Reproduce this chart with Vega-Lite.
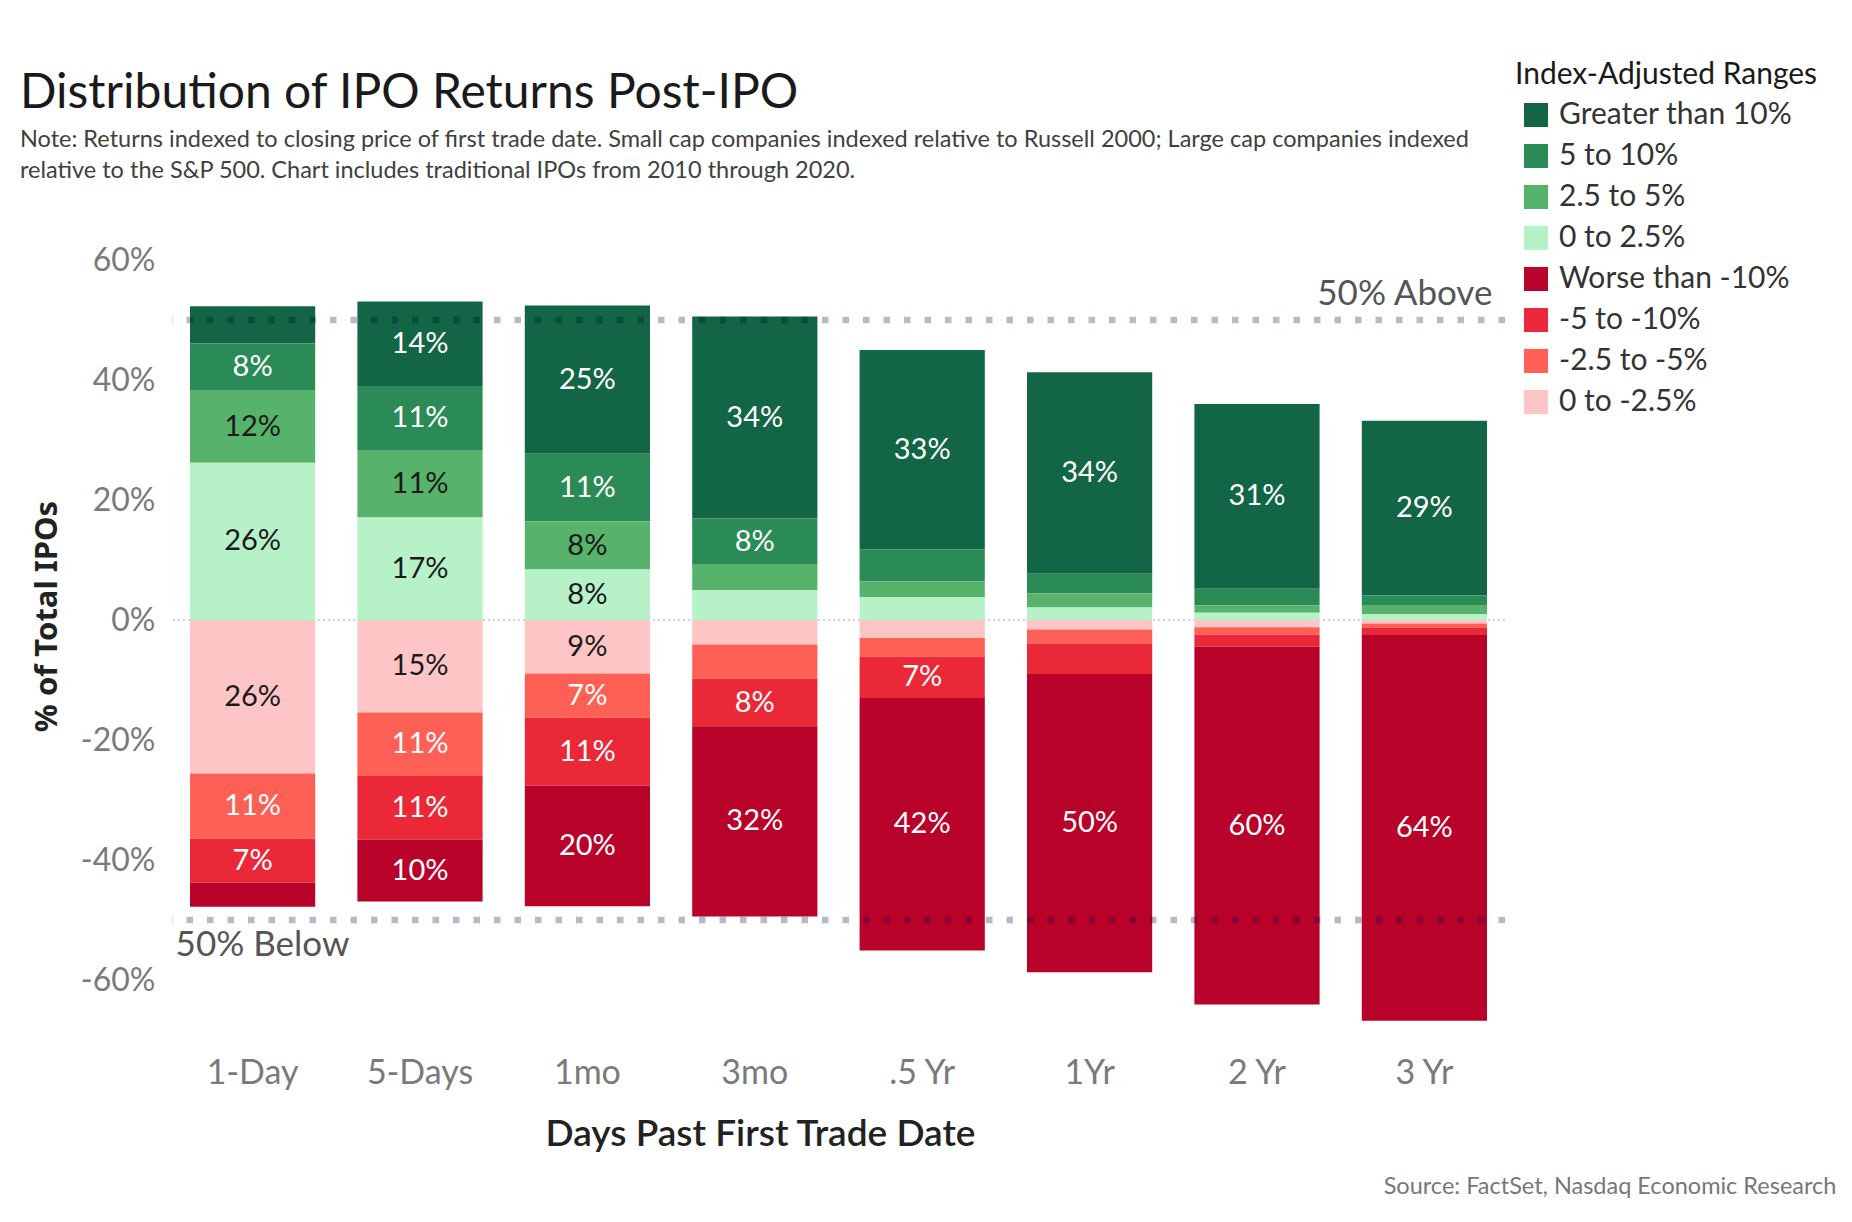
{
  "$schema": "https://vega.github.io/schema/vega-lite/v6.json",
  "width": 1333,
  "height": 810,
  "autosize": {"type": "none"},
  "padding": {"left": 172, "top": 230, "right": 347, "bottom": 182},
  "background": "white",
  "title": {
    "text": "Distribution of IPO Returns Post-IPO",
    "subtitle": [
      "Note: Returns indexed to closing price of first trade date. Small cap companies indexed relative to Russell 2000; Large cap companies indexed",
      "relative to the S&P 500. Chart includes traditional IPOs from 2010 through 2020."
    ],
    "anchor": "start",
    "frame": "group",
    "dx": -152,
    "dy": 132,
    "offset": 10,
    "font": "Lato",
    "fontSize": 48,
    "fontWeight": "normal",
    "color": "#1a1a1a",
    "subtitleFont": "Lato",
    "subtitleFontSize": 23.5,
    "subtitleColor": "#404040",
    "subtitleLineHeight": 31,
    "subtitlePadding": 10
  },
  "data": {
    "values": [
      {"period": "1-Day", "range": "Greater than 10%", "value": 0.062, "share": 0.062, "rank": 4},
      {"period": "1-Day", "range": "5 to 10%", "value": 0.079, "share": 0.079, "rank": 3},
      {"period": "1-Day", "range": "2.5 to 5%", "value": 0.120, "share": 0.120, "rank": 2},
      {"period": "1-Day", "range": "0 to 2.5%", "value": 0.262, "share": 0.262, "rank": 1},
      {"period": "1-Day", "range": "0 to -2.5%", "value": -0.256, "share": 0.256, "rank": 1},
      {"period": "1-Day", "range": "-2.5 to -5%", "value": -0.108, "share": 0.108, "rank": 2},
      {"period": "1-Day", "range": "-5 to -10%", "value": -0.074, "share": 0.074, "rank": 3},
      {"period": "1-Day", "range": "Worse than -10%", "value": -0.040, "share": 0.040, "rank": 4},

      {"period": "5-Days", "range": "Greater than 10%", "value": 0.141, "share": 0.141, "rank": 4},
      {"period": "5-Days", "range": "5 to 10%", "value": 0.108, "share": 0.108, "rank": 3},
      {"period": "5-Days", "range": "2.5 to 5%", "value": 0.111, "share": 0.111, "rank": 2},
      {"period": "5-Days", "range": "0 to 2.5%", "value": 0.171, "share": 0.171, "rank": 1},
      {"period": "5-Days", "range": "0 to -2.5%", "value": -0.154, "share": 0.154, "rank": 1},
      {"period": "5-Days", "range": "-2.5 to -5%", "value": -0.106, "share": 0.106, "rank": 2},
      {"period": "5-Days", "range": "-5 to -10%", "value": -0.106, "share": 0.106, "rank": 3},
      {"period": "5-Days", "range": "Worse than -10%", "value": -0.103, "share": 0.103, "rank": 4},

      {"period": "1mo", "range": "Greater than 10%", "value": 0.247, "share": 0.247, "rank": 4},
      {"period": "1mo", "range": "5 to 10%", "value": 0.113, "share": 0.113, "rank": 3},
      {"period": "1mo", "range": "2.5 to 5%", "value": 0.080, "share": 0.080, "rank": 2},
      {"period": "1mo", "range": "0 to 2.5%", "value": 0.084, "share": 0.084, "rank": 1},
      {"period": "1mo", "range": "0 to -2.5%", "value": -0.089, "share": 0.089, "rank": 1},
      {"period": "1mo", "range": "-2.5 to -5%", "value": -0.074, "share": 0.074, "rank": 2},
      {"period": "1mo", "range": "-5 to -10%", "value": -0.113, "share": 0.113, "rank": 3},
      {"period": "1mo", "range": "Worse than -10%", "value": -0.201, "share": 0.201, "rank": 4},

      {"period": "3mo", "range": "Greater than 10%", "value": 0.337, "share": 0.337, "rank": 4},
      {"period": "3mo", "range": "5 to 10%", "value": 0.077, "share": 0.077, "rank": 3},
      {"period": "3mo", "range": "2.5 to 5%", "value": 0.042, "share": 0.042, "rank": 2},
      {"period": "3mo", "range": "0 to 2.5%", "value": 0.050, "share": 0.050, "rank": 1},
      {"period": "3mo", "range": "0 to -2.5%", "value": -0.041, "share": 0.041, "rank": 1},
      {"period": "3mo", "range": "-2.5 to -5%", "value": -0.057, "share": 0.057, "rank": 2},
      {"period": "3mo", "range": "-5 to -10%", "value": -0.079, "share": 0.079, "rank": 3},
      {"period": "3mo", "range": "Worse than -10%", "value": -0.317, "share": 0.317, "rank": 4},

      {"period": ".5 Yr", "range": "Greater than 10%", "value": 0.332, "share": 0.332, "rank": 4},
      {"period": ".5 Yr", "range": "5 to 10%", "value": 0.054, "share": 0.054, "rank": 3},
      {"period": ".5 Yr", "range": "2.5 to 5%", "value": 0.026, "share": 0.026, "rank": 2},
      {"period": ".5 Yr", "range": "0 to 2.5%", "value": 0.038, "share": 0.038, "rank": 1},
      {"period": ".5 Yr", "range": "0 to -2.5%", "value": -0.030, "share": 0.030, "rank": 1},
      {"period": ".5 Yr", "range": "-2.5 to -5%", "value": -0.031, "share": 0.031, "rank": 2},
      {"period": ".5 Yr", "range": "-5 to -10%", "value": -0.069, "share": 0.069, "rank": 3},
      {"period": ".5 Yr", "range": "Worse than -10%", "value": -0.421, "share": 0.421, "rank": 4},

      {"period": "1Yr", "range": "Greater than 10%", "value": 0.336, "share": 0.336, "rank": 4},
      {"period": "1Yr", "range": "5 to 10%", "value": 0.033, "share": 0.033, "rank": 3},
      {"period": "1Yr", "range": "2.5 to 5%", "value": 0.023, "share": 0.023, "rank": 2},
      {"period": "1Yr", "range": "0 to 2.5%", "value": 0.021, "share": 0.021, "rank": 1},
      {"period": "1Yr", "range": "0 to -2.5%", "value": -0.016, "share": 0.016, "rank": 1},
      {"period": "1Yr", "range": "-2.5 to -5%", "value": -0.023, "share": 0.023, "rank": 2},
      {"period": "1Yr", "range": "-5 to -10%", "value": -0.051, "share": 0.051, "rank": 3},
      {"period": "1Yr", "range": "Worse than -10%", "value": -0.497, "share": 0.497, "rank": 4},

      {"period": "2 Yr", "range": "Greater than 10%", "value": 0.308, "share": 0.308, "rank": 4},
      {"period": "2 Yr", "range": "5 to 10%", "value": 0.028, "share": 0.028, "rank": 3},
      {"period": "2 Yr", "range": "2.5 to 5%", "value": 0.012, "share": 0.012, "rank": 2},
      {"period": "2 Yr", "range": "0 to 2.5%", "value": 0.012, "share": 0.012, "rank": 1},
      {"period": "2 Yr", "range": "0 to -2.5%", "value": -0.012, "share": 0.012, "rank": 1},
      {"period": "2 Yr", "range": "-2.5 to -5%", "value": -0.012, "share": 0.012, "rank": 2},
      {"period": "2 Yr", "range": "-5 to -10%", "value": -0.020, "share": 0.020, "rank": 3},
      {"period": "2 Yr", "range": "Worse than -10%", "value": -0.597, "share": 0.597, "rank": 4},

      {"period": "3 Yr", "range": "Greater than 10%", "value": 0.291, "share": 0.291, "rank": 4},
      {"period": "3 Yr", "range": "5 to 10%", "value": 0.016, "share": 0.016, "rank": 3},
      {"period": "3 Yr", "range": "2.5 to 5%", "value": 0.015, "share": 0.015, "rank": 2},
      {"period": "3 Yr", "range": "0 to 2.5%", "value": 0.010, "share": 0.010, "rank": 1},
      {"period": "3 Yr", "range": "0 to -2.5%", "value": -0.006, "share": 0.006, "rank": 1},
      {"period": "3 Yr", "range": "-2.5 to -5%", "value": -0.007, "share": 0.007, "rank": 2},
      {"period": "3 Yr", "range": "-5 to -10%", "value": -0.012, "share": 0.012, "rank": 3},
      {"period": "3 Yr", "range": "Worse than -10%", "value": -0.643, "share": 0.643, "rank": 4}
    ]
  },
  "encoding": {
    "x": {
      "field": "period",
      "type": "nominal",
      "sort": ["1-Day", "5-Days", "1mo", "3mo", ".5 Yr", "1Yr", "2 Yr", "3 Yr"],
      "scale": {"paddingInner": 0.252, "paddingOuter": 0.1075},
      "axis": {
        "title": "Days Past First Trade Date",
        "labelAngle": 0,
        "labelFontSize": 34,
        "labelColor": "#7a7a7a",
        "labelPadding": 16,
        "ticks": false,
        "domain": false,
        "titleFontSize": 37,
        "titleFontWeight": 600,
        "titleColor": "#222222",
        "titleX": 588,
        "titleY": 94,
        "titleBaseline": "middle"
      }
    }
  },
  "layer": [
    {
      "data": {"values": [{}]},
      "mark": {"type": "rule", "strokeDash": [2, 3], "color": "#c4c4cc", "strokeWidth": 1.5},
      "encoding": {"y": {"datum": 0, "type": "quantitative"}, "x": null}
    },
    {
      "mark": {"type": "bar"},
      "encoding": {
        "y": {
          "field": "value",
          "type": "quantitative",
          "stack": "zero",
          "scale": {"domain": [-0.7, 0.65], "nice": false, "zero": false},
          "axis": {
            "title": "% of Total IPOs",
            "values": [-0.6, -0.4, -0.2, 0, 0.2, 0.4, 0.6],
            "format": ".0%",
            "labelExpr": "replace(datum.label, '\u2212', '-')",
            "grid": false,
            "ticks": false,
            "domain": false,
            "labelFontSize": 32,
            "labelColor": "#7a7a7a",
            "labelPadding": 17,
            "titleFont": "Noto Sans",
            "titleFontSize": 31,
            "titleFontWeight": "bold",
            "titleColor": "#222222",
            "titleX": -125,
            "titleY": 386,
            "titleAlign": "center",
            "titleBaseline": "middle"
          }
        },
        "color": {
          "field": "range",
          "type": "nominal",
          "scale": {
            "domain": ["Greater than 10%", "5 to 10%", "2.5 to 5%", "0 to 2.5%", "Worse than -10%", "-5 to -10%", "-2.5 to -5%", "0 to -2.5%"],
            "range": ["#136645", "#2a8b57", "#57b26c", "#b6f1c8", "#b9022a", "#ea2838", "#fe6055", "#fec5c6"]
          },
          "legend": {
            "title": "Index-Adjusted Ranges",
            "orient": "none",
            "legendX": 1343,
            "legendY": -170,
            "padding": 0,
            "symbolType": "square",
            "symbolSize": 576,
            "symbolStrokeWidth": 0,
            "symbolOffset": 6,
            "labelFontSize": 30,
            "labelColor": "#333333",
            "labelOffset": 8,
            "rowPadding": 11,
            "titleFontSize": 30,
            "titleFontWeight": "normal",
            "titleColor": "#1a1a1a",
            "titlePadding": 10,
            "labelLimit": 400,
            "titleLimit": 400
          }
        },
        "order": {"field": "rank", "type": "quantitative"}
      }
    },
    {
      "mark": {"type": "text", "fontSize": 29, "baseline": "middle", "align": "center"},
      "encoding": {
        "y": {"field": "value", "type": "quantitative", "stack": "zero", "bandPosition": 0.5},
        "order": {"field": "rank", "type": "quantitative"},
        "text": {
          "condition": {"test": "datum.share < 0.065", "value": ""},
          "field": "share",
          "format": ".0%"
        },
        "color": {
          "condition": {"test": "datum.range === '2.5 to 5%' || datum.range === '0 to 2.5%' || datum.range === '0 to -2.5%'", "value": "#1a1a1a"},
          "value": "#ffffff"
        }
      }
    },
    {
      "data": {"values": [{"level": 0.5}, {"level": -0.5}]},
      "mark": {"type": "rule", "strokeDash": [6.5, 14], "color": "#000048", "opacity": 0.28, "strokeWidth": 6.5},
      "encoding": {"y": {"field": "level", "type": "quantitative"}, "x": null}
    },
    {
      "data": {"values": [{}]},
      "mark": {"type": "text", "fontSize": 35, "color": "#555555", "align": "right", "baseline": "bottom", "dx": 68, "dy": -8},
      "encoding": {
        "x": {"datum": "3 Yr"},
        "y": {"datum": 0.5, "type": "quantitative"},
        "text": {"value": "50% Above"}
      }
    },
    {
      "data": {"values": [{}]},
      "mark": {"type": "text", "fontSize": 35, "color": "#555555", "align": "left", "baseline": "top", "dx": -77, "dy": 8},
      "encoding": {
        "x": {"datum": "1-Day"},
        "y": {"datum": -0.5, "type": "quantitative"},
        "text": {"value": "50% Below"}
      }
    },
    {
      "data": {"values": [{}]},
      "mark": {"type": "text", "fontSize": 23.5, "color": "#777777", "align": "right", "baseline": "middle", "dx": 412, "dy": 147},
      "encoding": {
        "x": {"datum": "3 Yr"},
        "y": {"datum": -0.7, "type": "quantitative"},
        "text": {"value": "Source: FactSet, Nasdaq Economic Research"}
      }
    }
  ],
  "config": {
    "font": "Lato",
    "view": {"stroke": null},
    "axis": {"labelFont": "Lato", "titleFont": "Lato"},
    "legend": {"labelFont": "Lato", "titleFont": "Lato"}
  }
}
